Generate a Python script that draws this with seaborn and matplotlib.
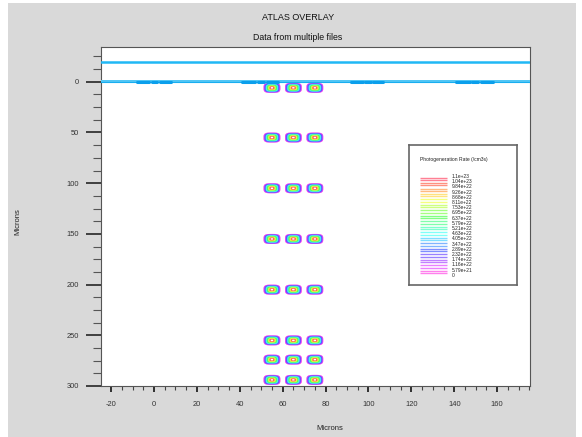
import numpy as np
import matplotlib
matplotlib.use("Agg")
import matplotlib.pyplot as plt
from matplotlib.ticker import MultipleLocator
from matplotlib.patches import Rectangle
import seaborn as sns
import pandas as pd

# ---------------- data ----------------
title = "ATLAS OVERLAY"
subtitle = "Data from multiple files"
x_label = "Microns"
y_label = "Microns"
x_ticks = [-20, 0, 20, 40, 60, 80, 100, 120, 140, 160]
y_ticks = [0, 50, 100, 150, 200, 250, 300]

# photogeneration spots (centres in microns)
spot_x = [55, 65, 75]
spot_y = [6, 55, 105, 155, 205, 255, 274, 294]
spot_half_w = 4.1
spot_half_h = 5.2
spot_peak = 1.3e23

# boundary lines
top_line_y = -20
surface_y = 0
electrode_start = [-8, 41, 92, 141]
electrode_end = [8, 58, 107, 158]

legend_title = "Photogeneration Rate (/cm3s)"
legend_levels = [1.1e23, 1.04e23, 9.84e22, 9.26e22, 8.68e22, 8.11e22, 7.53e22,
                 6.95e22, 6.37e22, 5.79e22, 5.21e22, 4.63e22, 4.05e22, 3.47e22,
                 2.89e22, 2.32e22, 1.74e22, 1.16e22, 5.79e21, 0]
legend_labels = ["1.1e+23", "1.04e+23", "9.84e+22", "9.26e+22", "8.68e+22",
                 "8.11e+22", "7.53e+22", "6.95e+22", "6.37e+22", "5.79e+22",
                 "5.21e+22", "4.63e+22", "4.05e+22", "3.47e+22", "2.89e+22",
                 "2.32e+22", "1.74e+22", "1.16e+22", "5.79e+21", "0"]

# ---------------- style ----------------
sns.set_style("ticks")
plt.rcParams["font.family"] = ["Liberation Sans", "DejaVu Sans"]
plt.rcParams["axes.unicode_minus"] = False

W, H = 582, 437
fig = plt.figure(figsize=(W / 100, H / 100), dpi=100, facecolor="white")
fig.patches.append(Rectangle((8 / W, 0), (W - 14) / W, 1 - 3 / H,
                             transform=fig.transFigure, facecolor="#d9d9d9",
                             edgecolor="none", zorder=-10))

ax = fig.add_axes([101 / W, 1 - 386 / H, (530 - 101) / W, (386 - 47) / H])
ax.set_facecolor("white")
ax.set_xlim(-24.7, 175.3)
ax.set_ylim(300, -34.3)

# ---------------- contour field ----------------
gx = np.arange(44, 86, 0.12)
gy = np.arange(-3, 303, 0.12)
X, Y = np.meshgrid(gx, gy)
Z = np.zeros_like(X)
p = 3.5
for cy in spot_y:
    for cx in spot_x:
        r = (np.abs((X - cx) / spot_half_w) ** p + np.abs((Y - cy) / spot_half_h) ** p) ** (1 / p)
        Z = np.maximum(Z, spot_peak * np.clip(1 - r, 0, None))

levels_asc = sorted(legend_levels)[1:]
nb = len(levels_asc) - 1
cmap = plt.get_cmap("gist_rainbow_r")
bin_colors = [cmap(0.02 + 0.98 * i / (nb - 1)) for i in range(nb)]
ax.contourf(X, Y, Z, levels=levels_asc, colors=bin_colors, antialiased=True, zorder=2)

# ---------------- lines ----------------
line_df = pd.DataFrame({"x": [-24.7, 175.3], "y": [top_line_y, top_line_y]})
sns.lineplot(data=line_df, x="x", y="y", ax=ax, color="#20b8f5", lw=1.8, zorder=3)
ax.axhspan(surface_y - 2.2, surface_y + 1.6, color="#52c6f5", lw=0, zorder=3)
surf_df = pd.DataFrame({"x": [-24.7, 175.3], "y": [surface_y, surface_y]})
sns.lineplot(data=surf_df, x="x", y="y", ax=ax, color="#18aef0", lw=0.8, zorder=4)
for xs, xe in zip(electrode_start, electrode_end):
    span = xe - xs
    pieces = [(xs, xs + 0.36 * span), (xs + 0.44 * span, xs + 0.6 * span), (xs + 0.68 * span, xe)]
    for a, b in pieces:
        seg = pd.DataFrame({"x": [a, b], "y": [surface_y, surface_y]})
        sns.lineplot(data=seg, x="x", y="y", ax=ax, color="#0a9fec", lw=2.2, zorder=5)

# ---------------- axes styling ----------------
ax.set_xticks(x_ticks)
ax.set_yticks(y_ticks)
ax.xaxis.set_minor_locator(MultipleLocator(5))
ax.yaxis.set_minor_locator(MultipleLocator(12.5))
ax.tick_params(axis="x", which="major", length=4.5, width=1.3, color="#222",
               labelsize=5.4, labelcolor="#333", pad=6)
ax.tick_params(axis="x", which="minor", length=3, width=0.8, color="#444")
ax.tick_params(axis="y", which="major", length=11, width=1.3, color="#333",
               labelsize=5.4, labelcolor="#333", pad=5)
ax.tick_params(axis="y", which="minor", length=5.5, width=0.8, color="#555")
for s in ax.spines.values():
    s.set_color("#555")
    s.set_linewidth(0.8)
ax.set_xlabel("")
ax.set_ylabel("")

fig.text(330 / W, 1 - 428 / H, x_label, ha="center", va="center", fontsize=5.5, color="#222")
fig.text(18 / W, 1 - 222 / H, y_label, ha="center", va="center", rotation=90,
         fontsize=5.5, color="#222")
fig.text(298 / W, 1 - 17 / H, title, ha="center", va="center", fontsize=6.5, color="#111")
fig.text(298 / W, 1 - 37 / H, subtitle, ha="center", va="center", fontsize=6.3, color="#111")

# ---------------- legend panel ----------------
lx0, lx1, ly0, ly1 = 409, 517, 145, 285
lax = fig.add_axes([lx0 / W, 1 - ly1 / H, (lx1 - lx0) / W, (ly1 - ly0) / H])
lax.set_xlim(lx0, lx1)
lax.set_ylim(ly1, ly0)
lax.set_facecolor("white")
for s in lax.spines.values():
    s.set_color("#666")
    s.set_linewidth(1.2)
lax.set_xticks([])
lax.set_yticks([])
lax.text(420, 160, legend_title, fontsize=3.6, color="#222", va="center", ha="left")
y0, dy = 176.5, 5.2
for i, lab in enumerate(legend_labels):
    lax.text(452, y0 + i * dy, lab, fontsize=3.5, color="#222", va="center", ha="left")
desc_colors = bin_colors[::-1]
for i, c in enumerate(desc_colors):
    pastel = tuple(0.5 * np.array(c[:3]) + 0.5)
    for k in range(2):
        yy = y0 + (i + 0.5) * dy * (len(legend_labels) - 1) / len(desc_colors) + (k - 0.5) * 2.4 - 0.5
        lax.plot([420, 447], [yy, yy], color=pastel, lw=1.0, solid_capstyle="butt")

fig.savefig("out.png", dpi=100, facecolor=fig.get_facecolor())
